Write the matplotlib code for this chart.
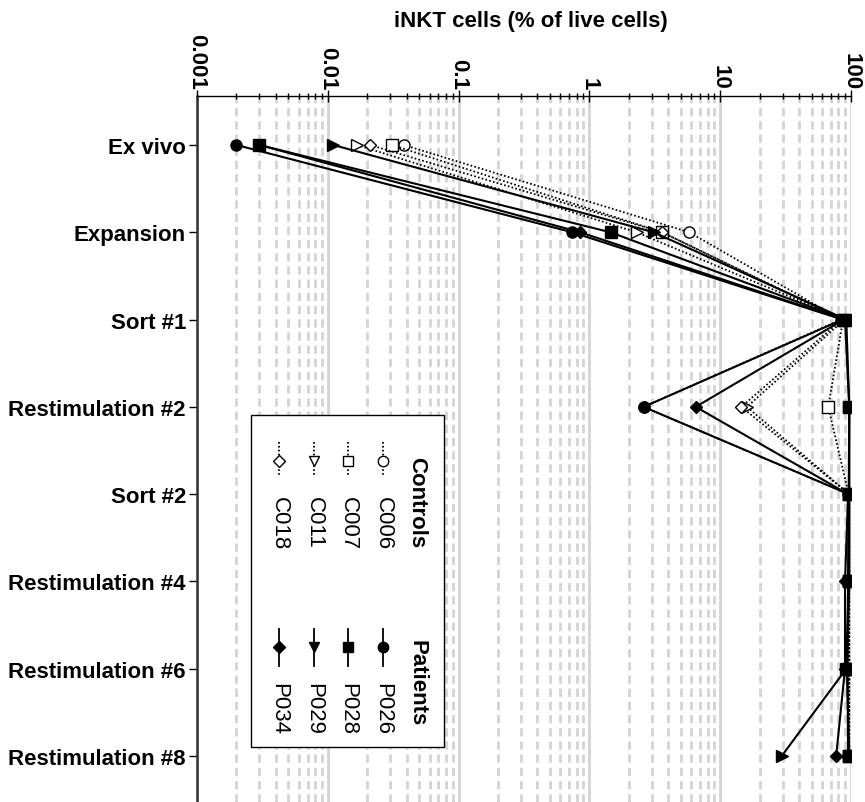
import matplotlib
matplotlib.use("Agg")
import matplotlib.pyplot as plt
from matplotlib.lines import Line2D
from matplotlib.patches import Rectangle
from matplotlib.ticker import LogLocator, FixedLocator, FixedFormatter, NullFormatter
import numpy as np

plt.rcParams['font.family'] = ['Liberation Sans', 'DejaVu Sans']
plt.rcParams['lines.scale_dashes'] = False

categories = ["Ex vivo", "Expansion", "Sort #1", "Restimulation #2", "Sort #2",
              "Restimulation #4", "Restimulation #6", "Restimulation #8"]

# Patients (solid lines, filled markers)
P026 = [0.002, 0.74, 86, 2.6, 96, 95, 94, 95]
P028 = [0.003, 1.45, 90, 97, 97, 97, 93, 97]
P029 = [0.011, 3.1, 92, 97, 96, 96, 92, 29.5]
P034 = [0.003, 0.85, 88, 6.5, 95, 90, 90, 77]

# Controls (dotted lines, open markers)
C006 = [0.038, 5.8, 84, 2.6, 96, 96, 96, 96]
C007 = [0.031, 3.6, 87, 67, 96, 97, 96, 97]
C011 = [0.0167, 2.3, 89, 16, 97, 97, 97, 97]
C018 = [0.021, 3.6, 85, 14.5, 97, 96, 97, 96]

x_ticks = [0.001, 0.01, 0.1, 1, 10, 100]
x_ticklabels = ["0.001", "0.01", "0.1", "1", "10", "100"]

controls = [("C006", C006, 'o'), ("C007", C007, 's'), ("C011", C011, '>'), ("C018", C018, 'D')]
patients = [("P026", P026, 'o'), ("P028", P028, 's'), ("P029", P029, '>'), ("P034", P034, 'D')]
legend_markers = {'o': 'o', 's': 's', '>': 'v', 'D': 'D'}

W, H = 865, 803
fig = plt.figure(figsize=(W / 100, H / 100), dpi=100)

def fx(x):
    return x / W

def fy(y):
    return 1 - y / H

ax_left, ax_right, ax_top, ax_bottom = 197, 851, 97, 803
ax = fig.add_axes([fx(ax_left), fy(ax_bottom), (ax_right - ax_left) / W, (ax_bottom - ax_top) / H])

ypos = np.arange(len(categories))
msize = {'o': 8, 's': 8, '>': 8, 'D': 6.5}

for name, vals, m in controls:
    ax.plot(vals, ypos, linestyle=(0, (1.2, 1.6)), color='black', lw=1.3,
            marker=m, ms=msize[m], mfc='white', mec='black', mew=1.0, zorder=3)
for name, vals, m in patients:
    ax.plot(vals, ypos, linestyle='-', color='black', lw=1.5,
            marker=m, ms=msize[m], mfc='black', mec='black', mew=1.0, zorder=4)

ax.set_xscale('log')
ax.set_xlim(0.001, 100)
ax.set_ylim(7.526, -0.561)

ax.xaxis.set_major_locator(FixedLocator(x_ticks))
ax.xaxis.set_major_formatter(FixedFormatter(x_ticklabels))
ax.xaxis.set_minor_locator(LogLocator(base=10, subs=np.arange(2, 10), numticks=20))
ax.xaxis.set_minor_formatter(NullFormatter())
ax.xaxis.tick_top()
ax.tick_params(axis='x', which='major', direction='inout', length=8, width=1, pad=1,
               labelsize=16, labelrotation=-90)
ax.tick_params(axis='x', which='minor', direction='inout', length=5, width=1)
for lab in ax.get_xticklabels():
    lab.set_fontweight('bold')
    lab.set_va('bottom')

ax.set_yticks(ypos)
ax.set_yticklabels(categories, fontsize=16, fontweight='bold')
ax.tick_params(axis='y', direction='out', length=6, width=1, pad=2)

ax.grid(True, axis='x', which='major', color='#d4d4d4', lw=2, ls='-', zorder=0)
ax.grid(True, axis='x', which='minor', color='#d4d4d4', lw=2, ls=(0, (6, 3.5)), zorder=0)
ax.set_axisbelow(True)

ax.spines['right'].set_visible(False)
ax.spines['bottom'].set_visible(False)
ax.spines['left'].set_linewidth(1.8)
ax.spines['left'].set_color('#333333')
ax.spines['top'].set_linewidth(1.0)

fig.text(fx(531), fy(22), "iNKT cells (% of live cells)", ha='center', va='center',
         fontsize=16, fontweight='bold')

# Rotated legend, drawn by hand in figure coordinates
box_l, box_r, box_t, box_b = 251, 444, 416, 748
fig.add_artist(Rectangle((fx(box_l), fy(box_b)), (box_r - box_l) / W, (box_b - box_t) / H,
                         transform=fig.transFigure, facecolor='white', edgecolor='black',
                         lw=1.0, zorder=5))
cols_x = [383, 348, 314, 279]
title_x = 417
groups = [("Controls", controls, 457, 443, 477, 462, 497, (0, (1.2, 1.6)), 'white'),
          ("Patients", patients, 640, 630, 667, 648, 683, '-', 'black')]
for title, series, ty, l0, l1, my, txy, ls, mfc in groups:
    fig.text(fx(title_x), fy(ty), title, rotation=-90, ha='center', va='top',
             fontsize=16, fontweight='bold', zorder=6)
    for (name, vals, m), cx in zip(series, cols_x):
        fig.add_artist(Line2D([fx(cx), fx(cx)], [fy(l0), fy(l1)], transform=fig.transFigure,
                              color='black', lw=1.3, linestyle=ls, zorder=6))
        fig.add_artist(Line2D([fx(cx)], [fy(my)], transform=fig.transFigure,
                              marker=legend_markers[m], ms=msize[m] - 0.5, mfc=mfc,
                              mec='black', mew=1.0, linestyle='none', zorder=7))
        fig.text(fx(cx), fy(txy), name, rotation=-90, ha='center', va='top',
                 fontsize=16, zorder=6)

fig.savefig("out.png", dpi=100)
